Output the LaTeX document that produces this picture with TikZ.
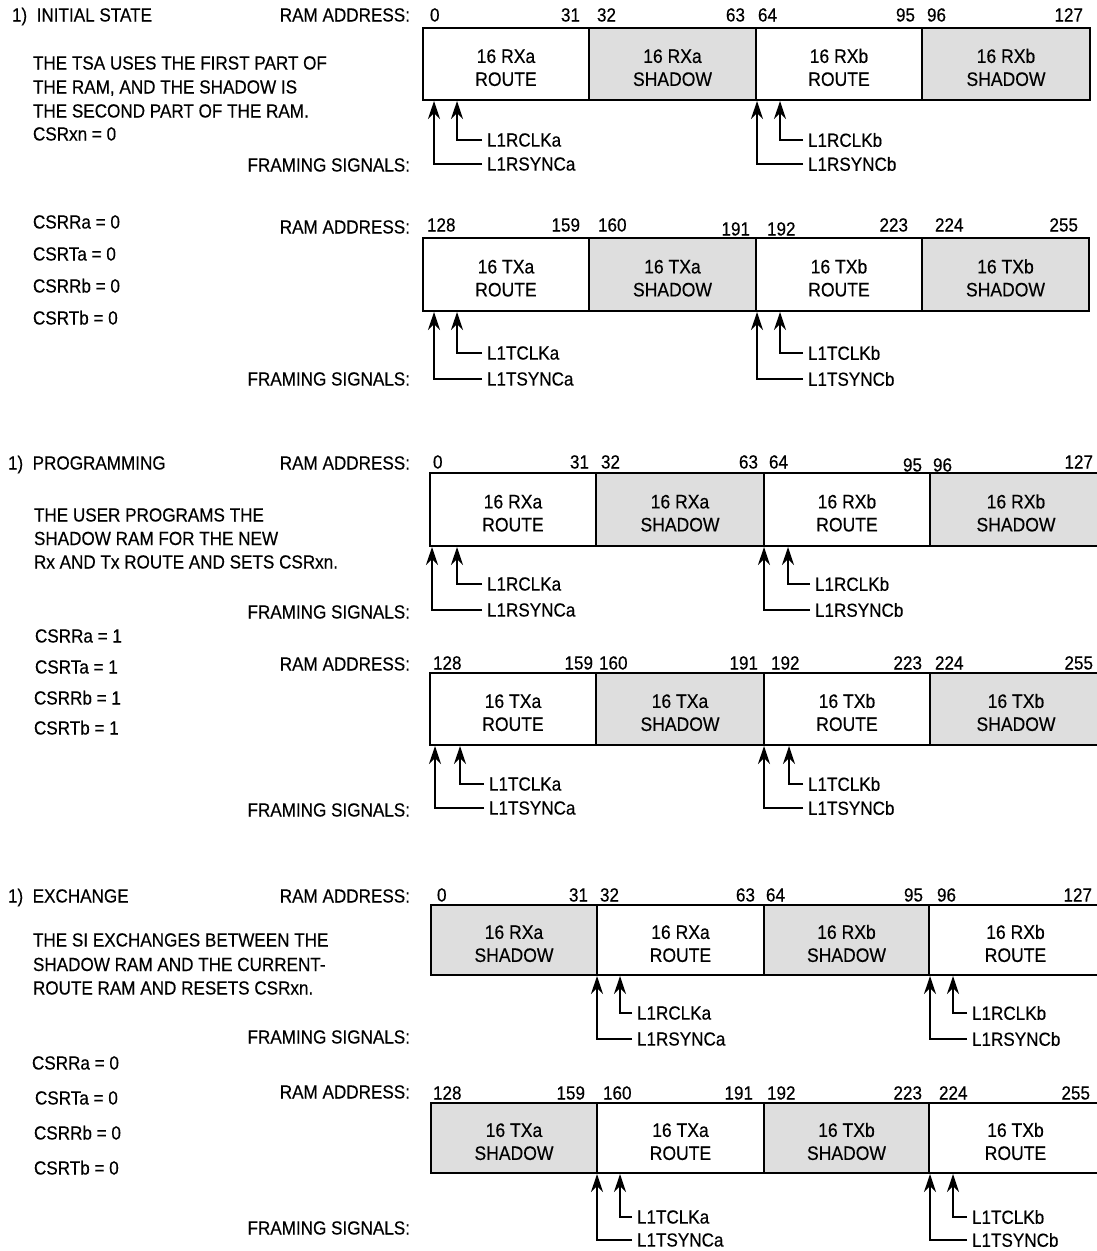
\documentclass[tikz,border=0pt]{standalone}
\usepackage{fontspec}
\setmainfont[FakeStretch=0.9,FakeBold=0.35]{Liberation Sans}
\usetikzlibrary{arrows.meta}
\definecolor{shade}{RGB}{222,222,222}
\newcommand\lbf{\fontsize{19}{22}\selectfont}
\newcommand\cellf{\fontsize{19.5}{23}\selectfont}
\newcommand\celltext[2]{\rule{0pt}{21pt}#1\\#2}
\tikzset{
  every node/.style={inner sep=0pt, outer sep=0pt},
  txt/.style={font=\lbf, anchor=base west},
  rtxt/.style={font=\lbf, anchor=base east},
  cell/.style={draw, line width=2.2pt, anchor=north west, align=center, font=\cellf, fill=white},
  shcell/.style={cell, fill=shade},
  sig/.style={line width=1.3pt, -{Stealth[length=18pt,width=12pt,inset=6pt]}},
  siglab/.style={font=\lbf, anchor=west, inner xsep=5pt}
}
\begin{document}
\begin{tikzpicture}[x=1pt,y=-1pt]
\useasboundingbox (0,0) rectangle (1096,1251);

% ================= SECTION 1 =================
\node[txt] (h1) at (12,21.5) {1)\ \ INITIAL STATE};
\node[rtxt] (ra1) at (410,21.5) {RAM ADDRESS:};
\node[txt] (p1a) at (33,69.5) {THE TSA USES THE FIRST PART OF};
\node[txt] (p1b) at (33,93.5) {THE RAM, AND THE SHADOW IS};
\node[txt] (p1c) at (33,117.5) {THE SECOND PART OF THE RAM.};
\node[txt] (p1d) at (33,140.5) {CSRxn = 0};
\node[rtxt] (fs1) at (410,171.5) {FRAMING SIGNALS:};
\node[txt] (c1a) at (33,228.5) {CSRRa = 0};
\node[txt] (c1b) at (33,260.5) {CSRTa = 0};
\node[txt] (c1c) at (33,292.5) {CSRRb = 0};
\node[txt] (c1d) at (33,324.5) {CSRTb = 0};
\node[rtxt] (ra2) at (410,233.5) {RAM ADDRESS:};
\node[rtxt] (fs2) at (410,385.5) {FRAMING SIGNALS:};

% row 1 bar
\node[cell, minimum width=166pt, minimum height=72pt] (b1c1) at (423,28) {\celltext{16 RXa}{ROUTE}};
\node[shcell, minimum width=167pt, minimum height=72pt] (b1c2) at (589,28) {\celltext{16 RXa}{SHADOW}};
\node[cell, minimum width=166pt, minimum height=72pt] (b1c3) at (756,28) {\celltext{16 RXb}{ROUTE}};
\node[shcell, minimum width=168pt, minimum height=72pt] (b1c4) at (922,28) {\celltext{16 RXb}{SHADOW}};
\node[txt] (n1a) at (430,21.5) {0};
\node[rtxt] (n1b) at (580,21.5) {31};
\node[txt] (n1c) at (597,21.5) {32};
\node[rtxt] (n1d) at (745,21.5) {63};
\node[txt] (n1e) at (758,21.5) {64};
\node[rtxt] (n1f) at (915,21.5) {95};
\node[txt] (n1g) at (927,21.5) {96};
\node[rtxt] (n1h) at (1083,21.5) {127};
\coordinate (t1as) at (434,101); \coordinate (t1ac) at (457,101);
\coordinate (t1bs) at (757,101); \coordinate (t1bc) at (780,101);
\node[siglab] (s1ac) at (482,140) {L1RCLKa};
\node[siglab] (s1as) at (482,164) {L1RSYNCa};
\node[siglab] (s1bc) at (803,140) {L1RCLKb};
\node[siglab] (s1bs) at (803,164) {L1RSYNCb};
\draw[sig] (s1ac.west) -| (t1ac);
\draw[sig] (s1as.west) -| (t1as);
\draw[sig] (s1bc.west) -| (t1bc);
\draw[sig] (s1bs.west) -| (t1bs);

% row 2 bar
\node[cell, minimum width=166pt, minimum height=73pt] (b2c1) at (423,238) {\celltext{16 TXa}{ROUTE}};
\node[shcell, minimum width=167pt, minimum height=73pt] (b2c2) at (589,238) {\celltext{16 TXa}{SHADOW}};
\node[cell, minimum width=166pt, minimum height=73pt] (b2c3) at (756,238) {\celltext{16 TXb}{ROUTE}};
\node[shcell, minimum width=167pt, minimum height=73pt] (b2c4) at (922,238) {\celltext{16 TXb}{SHADOW}};
\node[txt] (n2a) at (427,231.5) {128};
\node[rtxt] (n2b) at (580,231.5) {159};
\node[txt] (n2c) at (598,231.5) {160};
\node[rtxt] (n2d) at (750,235.5) {191};
\node[txt] (n2e) at (767,235.5) {192};
\node[rtxt] (n2f) at (908,231.5) {223};
\node[txt] (n2g) at (935,231.5) {224};
\node[rtxt] (n2h) at (1078,231.5) {255};
\coordinate (t2as) at (434,312); \coordinate (t2ac) at (457,312);
\coordinate (t2bs) at (757,312); \coordinate (t2bc) at (780,312);
\node[siglab] (s2ac) at (482,353) {L1TCLKa};
\node[siglab] (s2as) at (482,379) {L1TSYNCa};
\node[siglab] (s2bc) at (803,353) {L1TCLKb};
\node[siglab] (s2bs) at (803,379) {L1TSYNCb};
\draw[sig] (s2ac.west) -| (t2ac);
\draw[sig] (s2as.west) -| (t2as);
\draw[sig] (s2bc.west) -| (t2bc);
\draw[sig] (s2bs.west) -| (t2bs);

% ================= SECTION 2 =================
\node[txt] (h2) at (8,469.5) {1)\ \ PROGRAMMING};
\node[rtxt] (ra3) at (410,469.5) {RAM ADDRESS:};
\node[txt] (p2a) at (34,521.5) {THE USER PROGRAMS THE};
\node[txt] (p2b) at (34,545) {SHADOW RAM FOR THE NEW};
\node[txt] (p2c) at (34,568.5) {Rx AND Tx ROUTE AND SETS CSRxn.};
\node[rtxt] (fs3) at (410,618.5) {FRAMING SIGNALS:};
\node[txt] (c2a) at (35,642.5) {CSRRa = 1};
\node[txt] (c2b) at (35,673.5) {CSRTa = 1};
\node[txt] (c2c) at (34,704.5) {CSRRb = 1};
\node[txt] (c2d) at (34,734.5) {CSRTb = 1};
\node[rtxt] (ra4) at (410,670.5) {RAM ADDRESS:};
\node[rtxt] (fs4) at (410,816.5) {FRAMING SIGNALS:};

% row 3 bar
\node[cell, minimum width=166pt, minimum height=73pt] (b3c1) at (430,473) {\celltext{16 RXa}{ROUTE}};
\node[shcell, minimum width=168pt, minimum height=73pt] (b3c2) at (596,473) {\celltext{16 RXa}{SHADOW}};
\node[cell, minimum width=166pt, minimum height=73pt] (b3c3) at (764,473) {\celltext{16 RXb}{ROUTE}};
\node[shcell, minimum width=172pt, minimum height=73pt] (b3c4) at (930,473) {\celltext{16 RXb}{SHADOW}};
\node[txt] (n3a) at (433,468.5) {0};
\node[rtxt] (n3b) at (589,468.5) {31};
\node[txt] (n3c) at (601,468.5) {32};
\node[rtxt] (n3d) at (758,468.5) {63};
\node[txt] (n3e) at (769,468.5) {64};
\node[rtxt] (n3f) at (922,471.5) {95};
\node[txt] (n3g) at (933,471.5) {96};
\node[rtxt] (n3h) at (1093,468.5) {127};
\coordinate (t3as) at (432,547); \coordinate (t3ac) at (457,547);
\coordinate (t3bs) at (764,547); \coordinate (t3bc) at (788,547);
\node[siglab] (s3ac) at (482,584) {L1RCLKa};
\node[siglab] (s3as) at (482,610) {L1RSYNCa};
\node[siglab] (s3bc) at (810,584) {L1RCLKb};
\node[siglab] (s3bs) at (810,610) {L1RSYNCb};
\draw[sig] (s3ac.west) -| (t3ac);
\draw[sig] (s3as.west) -| (t3as);
\draw[sig] (s3bc.west) -| (t3bc);
\draw[sig] (s3bs.west) -| (t3bs);

% row 4 bar
\node[cell, minimum width=166pt, minimum height=72pt] (b4c1) at (430,673) {\celltext{16 TXa}{ROUTE}};
\node[shcell, minimum width=168pt, minimum height=72pt] (b4c2) at (596,673) {\celltext{16 TXa}{SHADOW}};
\node[cell, minimum width=166pt, minimum height=72pt] (b4c3) at (764,673) {\celltext{16 TXb}{ROUTE}};
\node[shcell, minimum width=172pt, minimum height=72pt] (b4c4) at (930,673) {\celltext{16 TXb}{SHADOW}};
\node[txt] (n4a) at (433,669.5) {128};
\node[rtxt] (n4b) at (593,669.5) {159};
\node[txt] (n4c) at (599,669.5) {160};
\node[rtxt] (n4d) at (758,669.5) {191};
\node[txt] (n4e) at (771,669.5) {192};
\node[rtxt] (n4f) at (922,669.5) {223};
\node[txt] (n4g) at (935,669.5) {224};
\node[rtxt] (n4h) at (1093,669.5) {255};
\coordinate (t4as) at (435,746); \coordinate (t4ac) at (460,746);
\coordinate (t4bs) at (764,746); \coordinate (t4bc) at (789,746);
\node[siglab] (s4ac) at (484,784) {L1TCLKa};
\node[siglab] (s4as) at (484,808) {L1TSYNCa};
\node[siglab] (s4bc) at (803,784) {L1TCLKb};
\node[siglab] (s4bs) at (803,808) {L1TSYNCb};
\draw[sig] (s4ac.west) -| (t4ac);
\draw[sig] (s4as.west) -| (t4as);
\draw[sig] (s4bc.west) -| (t4bc);
\draw[sig] (s4bs.west) -| (t4bs);

% ================= SECTION 3 =================
\node[txt] (h3) at (8,902.5) {1)\ \ EXCHANGE};
\node[rtxt] (ra5) at (410,902.5) {RAM ADDRESS:};
\node[txt] (p3a) at (33,946.5) {THE SI EXCHANGES BETWEEN THE};
\node[txt] (p3b) at (33,971) {SHADOW RAM AND THE CURRENT-};
\node[txt] (p3c) at (33,994.5) {ROUTE RAM AND RESETS CSRxn.};
\node[rtxt] (fs5) at (410,1043.5) {FRAMING SIGNALS:};
\node[txt] (c3a) at (32,1069.5) {CSRRa = 0};
\node[txt] (c3b) at (35,1104.5) {CSRTa = 0};
\node[txt] (c3c) at (34,1139.5) {CSRRb = 0};
\node[txt] (c3d) at (34,1174.5) {CSRTb = 0};
\node[rtxt] (ra6) at (410,1098.5) {RAM ADDRESS:};
\node[rtxt] (fs6) at (410,1234.5) {FRAMING SIGNALS:};

% row 5 bar
\node[shcell, minimum width=166pt, minimum height=70pt] (b5c1) at (431,905) {\celltext{16 RXa}{SHADOW}};
\node[cell, minimum width=167pt, minimum height=70pt] (b5c2) at (597,905) {\celltext{16 RXa}{ROUTE}};
\node[shcell, minimum width=165pt, minimum height=70pt] (b5c3) at (764,905) {\celltext{16 RXb}{SHADOW}};
\node[cell, minimum width=173pt, minimum height=70pt] (b5c4) at (929,905) {\celltext{16 RXb}{ROUTE}};
\node[txt] (n5a) at (437,901.5) {0};
\node[rtxt] (n5b) at (588,901.5) {31};
\node[txt] (n5c) at (600,901.5) {32};
\node[rtxt] (n5d) at (755,901.5) {63};
\node[txt] (n5e) at (766,901.5) {64};
\node[rtxt] (n5f) at (923,901.5) {95};
\node[txt] (n5g) at (937,901.5) {96};
\node[rtxt] (n5h) at (1092,901.5) {127};
\coordinate (t5as) at (597,976); \coordinate (t5ac) at (620,976);
\coordinate (t5bs) at (930,976); \coordinate (t5bc) at (953,976);
\node[siglab] (s5ac) at (632,1013) {L1RCLKa};
\node[siglab] (s5as) at (632,1039) {L1RSYNCa};
\node[siglab] (s5bc) at (967,1013) {L1RCLKb};
\node[siglab] (s5bs) at (967,1039) {L1RSYNCb};
\draw[sig] (s5ac.west) -| (t5ac);
\draw[sig] (s5as.west) -| (t5as);
\draw[sig] (s5bc.west) -| (t5bc);
\draw[sig] (s5bs.west) -| (t5bs);

% row 6 bar
\node[shcell, minimum width=166pt, minimum height=70pt] (b6c1) at (431,1103) {\celltext{16 TXa}{SHADOW}};
\node[cell, minimum width=167pt, minimum height=70pt] (b6c2) at (597,1103) {\celltext{16 TXa}{ROUTE}};
\node[shcell, minimum width=165pt, minimum height=70pt] (b6c3) at (764,1103) {\celltext{16 TXb}{SHADOW}};
\node[cell, minimum width=173pt, minimum height=70pt] (b6c4) at (929,1103) {\celltext{16 TXb}{ROUTE}};
\node[txt] (n6a) at (433,1099.5) {128};
\node[rtxt] (n6b) at (585,1099.5) {159};
\node[txt] (n6c) at (603,1099.5) {160};
\node[rtxt] (n6d) at (753,1099.5) {191};
\node[txt] (n6e) at (767,1099.5) {192};
\node[rtxt] (n6f) at (922,1099.5) {223};
\node[txt] (n6g) at (939,1099.5) {224};
\node[rtxt] (n6h) at (1090,1099.5) {255};
\coordinate (t6as) at (597,1174); \coordinate (t6ac) at (620,1174);
\coordinate (t6bs) at (930,1174); \coordinate (t6bc) at (953,1174);
\node[siglab] (s6ac) at (632,1217) {L1TCLKa};
\node[siglab] (s6as) at (632,1240) {L1TSYNCa};
\node[siglab] (s6bc) at (967,1217) {L1TCLKb};
\node[siglab] (s6bs) at (967,1240) {L1TSYNCb};
\draw[sig] (s6ac.west) -| (t6ac);
\draw[sig] (s6as.west) -| (t6as);
\draw[sig] (s6bc.west) -| (t6bc);
\draw[sig] (s6bs.west) -| (t6bs);
\end{tikzpicture}
\end{document}
